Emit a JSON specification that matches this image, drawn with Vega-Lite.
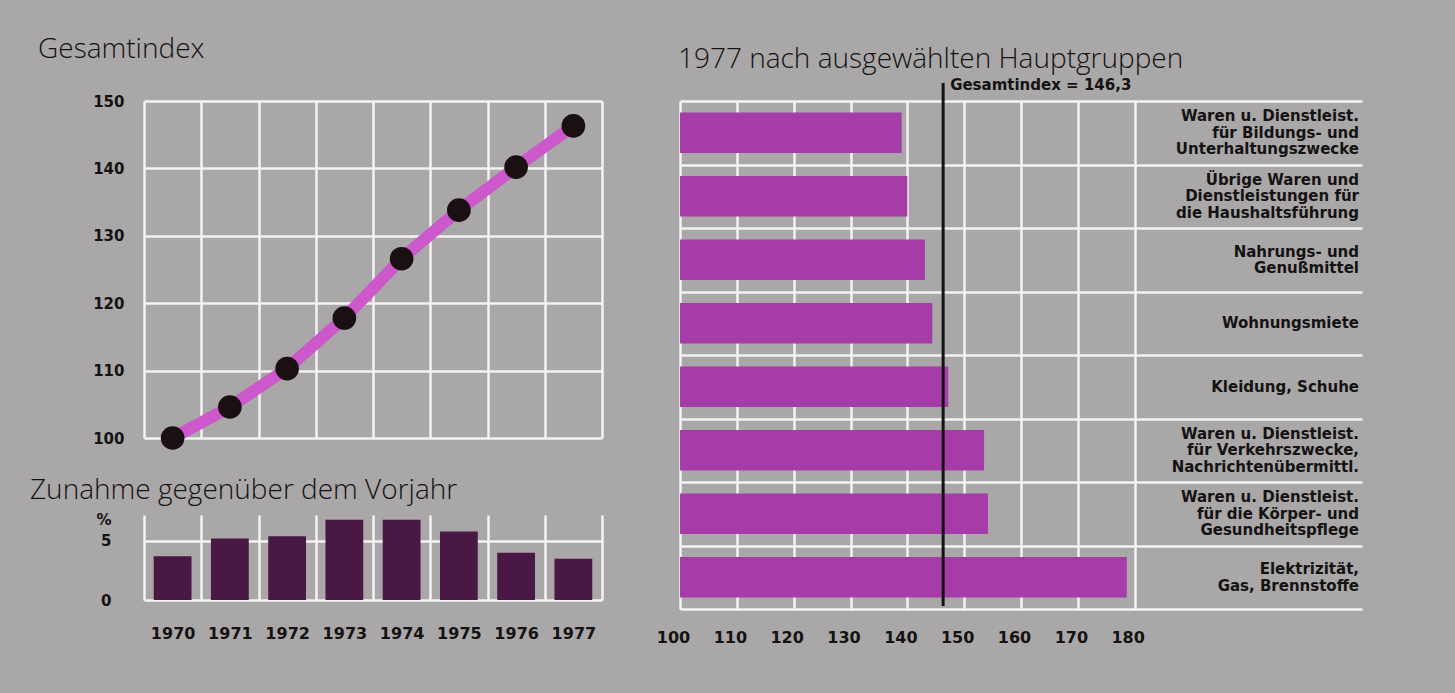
{
  "$schema": "https://vega.github.io/schema/vega-lite/v6.json",
  "background": "#a9a7a7",
  "padding": {"left": 30, "top": 36, "right": 115, "bottom": 50},
  "config": {
    "view": {"stroke": null},
    "axis": {
      "gridColor": "#f4f2f2",
      "gridWidth": 2.5,
      "gridOpacity": 1,
      "labelFont": "DejaVu Sans",
      "labelFontWeight": "bold",
      "labelFontSize": 15,
      "labelColor": "#151212",
      "labelFlush": false,
      "ticks": false,
      "domain": false,
      "title": null
    },
    "title": {
      "font": "Open Sans",
      "fontWeight": 300,
      "fontSize": 28,
      "color": "#151212",
      "anchor": "start",
      "frame": "group"
    }
  },
  "datasets": {
    "index": [
      {"jahr": 1970, "wert": 100},
      {"jahr": 1971, "wert": 104.6},
      {"jahr": 1972, "wert": 110.3},
      {"jahr": 1973, "wert": 117.8},
      {"jahr": 1974, "wert": 126.6},
      {"jahr": 1975, "wert": 133.8},
      {"jahr": 1976, "wert": 140.2},
      {"jahr": 1977, "wert": 146.3}
    ],
    "zunahme": [
      {"jahr": "1970", "prozent": 3.7},
      {"jahr": "1971", "prozent": 5.2},
      {"jahr": "1972", "prozent": 5.4},
      {"jahr": "1973", "prozent": 6.8},
      {"jahr": "1974", "prozent": 6.8},
      {"jahr": "1975", "prozent": 5.8},
      {"jahr": "1976", "prozent": 4.0},
      {"jahr": "1977", "prozent": 3.5}
    ],
    "gruppen": [
      {"gruppe": "Waren u. Dienstleist.|für Bildungs- und|Unterhaltungszwecke", "wert": 139.0},
      {"gruppe": "Übrige Waren und|Dienstleistungen für|die Haushaltsführung", "wert": 140.0},
      {"gruppe": "Nahrungs- und|Genußmittel", "wert": 143.1},
      {"gruppe": "Wohnungsmiete", "wert": 144.4},
      {"gruppe": "Kleidung, Schuhe", "wert": 147.2},
      {"gruppe": "Waren u. Dienstleist.|für Verkehrszwecke,|Nachrichtenübermittl.", "wert": 153.5},
      {"gruppe": "Waren u. Dienstleist.|für die Körper- und|Gesundheitspflege", "wert": 154.2},
      {"gruppe": "Elektrizität,|Gas, Brennstoffe", "wert": 178.6}
    ],
    "gesamt": [
      {"wert": 146.3, "text": "Gesamtindex = 146,3"}
    ]
  },
  "spacing": 54,
  "hconcat": [
    {
      "spacing": 14,
      "vconcat": [
        {
          "width": 458,
          "height": 337,
          "title": {"text": "Gesamtindex", "dx": -106, "offset": 30},
          "data": {"name": "index"},
          "encoding": {
            "x": {
              "field": "jahr",
              "type": "quantitative",
              "scale": {"domain": [1969.5, 1977.5], "nice": false, "zero": false},
              "axis": {"values": [1969.5, 1970.5, 1971.5, 1972.5, 1973.5, 1974.5, 1975.5, 1976.5, 1977.5], "labels": false, "grid": true}
            },
            "y": {
              "field": "wert",
              "type": "quantitative",
              "scale": {"domain": [100, 150], "nice": false, "zero": false},
              "axis": {"values": [100, 110, 120, 130, 140, 150], "labelPadding": 20, "grid": true}
            }
          },
          "layer": [
            {"mark": {"type": "line", "color": "#cc58cc", "strokeWidth": 12, "strokeCap": "butt"}},
            {"mark": {"type": "point", "filled": true, "size": 560, "color": "#1a1012", "opacity": 1}}
          ]
        },
        {
          "width": 458,
          "height": 85,
          "title": {"text": "Zunahme gegenüber dem Vorjahr", "dx": -114, "offset": 8},
          "data": {"name": "zunahme"},
          "mark": {"type": "bar", "color": "#4a1845", "width": {"band": 0.66}},
          "encoding": {
            "x": {
              "field": "jahr",
              "type": "ordinal",
              "scale": {"paddingInner": 0, "paddingOuter": 0},
              "axis": {"tickBand": "extent", "grid": true, "labelAngle": 0, "labelPadding": 25, "labelFontSize": 16}
            },
            "y": {
              "field": "prozent",
              "type": "quantitative",
              "scale": {"domain": [0, 7.2], "nice": false},
              "axis": {
                "values": [0, 5, 6.8],
                "labelExpr": "datum.value > 6 ? '%' : datum.label",
                "labelPadding": 33,
                "grid": true,
                "gridColor": {"condition": {"test": "datum.value > 6", "value": "transparent"}, "value": "#f4f2f2"}
              }
            }
          }
        }
      ]
    },
    {
      "width": 682,
      "height": 508,
      "title": {"text": "1977 nach ausgewählten Hauptgruppen", "dx": -2, "offset": 4},
      "layer": [
        {
          "data": {"name": "gruppen"},
          "mark": {"type": "bar", "color": "#a63ca8", "height": {"band": 0.64}},
          "encoding": {
            "y": {
              "field": "gruppe",
              "type": "nominal",
              "sort": null,
              "scale": {"paddingInner": 0, "paddingOuter": 0},
              "axis": {"tickBand": "extent", "grid": true, "labels": false}
            },
            "x": {
              "field": "wert",
              "type": "quantitative",
              "scale": {"domain": [100, 220], "nice": false, "zero": false},
              "axis": {"values": [100, 110, 120, 130, 140, 150, 160, 170, 180], "grid": true, "labelPadding": 20, "labelFontSize": 16, "labelOffset": -7}
            },
            "x2": {"datum": 100}
          }
        },
        {
          "data": {"name": "gruppen"},
          "transform": [{"filter": "length(split(datum.gruppe, '|')) == 3"}],
          "mark": {"type": "text", "align": "right", "baseline": "middle", "lineBreak": "|", "lineHeight": 16.5, "font": "DejaVu Sans", "fontWeight": "bold", "fontSize": 15, "color": "#151212", "dx": -3, "dy": -16.5},
          "encoding": {"x": {"datum": 220}, "y": {"field": "gruppe", "type": "nominal", "sort": null}, "text": {"field": "gruppe"}}
        },
        {
          "data": {"name": "gruppen"},
          "transform": [{"filter": "length(split(datum.gruppe, '|')) == 2"}],
          "mark": {"type": "text", "align": "right", "baseline": "middle", "lineBreak": "|", "lineHeight": 16.5, "font": "DejaVu Sans", "fontWeight": "bold", "fontSize": 15, "color": "#151212", "dx": -3, "dy": -8.25},
          "encoding": {"x": {"datum": 220}, "y": {"field": "gruppe", "type": "nominal", "sort": null}, "text": {"field": "gruppe"}}
        },
        {
          "data": {"name": "gruppen"},
          "transform": [{"filter": "length(split(datum.gruppe, '|')) == 1"}],
          "mark": {"type": "text", "align": "right", "baseline": "middle", "font": "DejaVu Sans", "fontWeight": "bold", "fontSize": 15, "color": "#151212", "dx": -3},
          "encoding": {"x": {"datum": 220}, "y": {"field": "gruppe", "type": "nominal", "sort": null}, "text": {"field": "gruppe"}}
        },
        {
          "data": {"name": "gesamt"},
          "mark": {"type": "rule", "color": "#141212", "strokeWidth": 3},
          "encoding": {
            "x": {"field": "wert", "type": "quantitative"},
            "y": {"value": -18},
            "y2": {"value": 505}
          }
        },
        {
          "data": {"name": "gesamt"},
          "mark": {"type": "text", "align": "left", "baseline": "middle", "font": "DejaVu Sans", "fontWeight": "bold", "fontSize": 15, "color": "#151212", "dx": 7},
          "encoding": {
            "x": {"field": "wert", "type": "quantitative"},
            "y": {"value": -16},
            "text": {"field": "text"}
          }
        }
      ]
    }
  ]
}
